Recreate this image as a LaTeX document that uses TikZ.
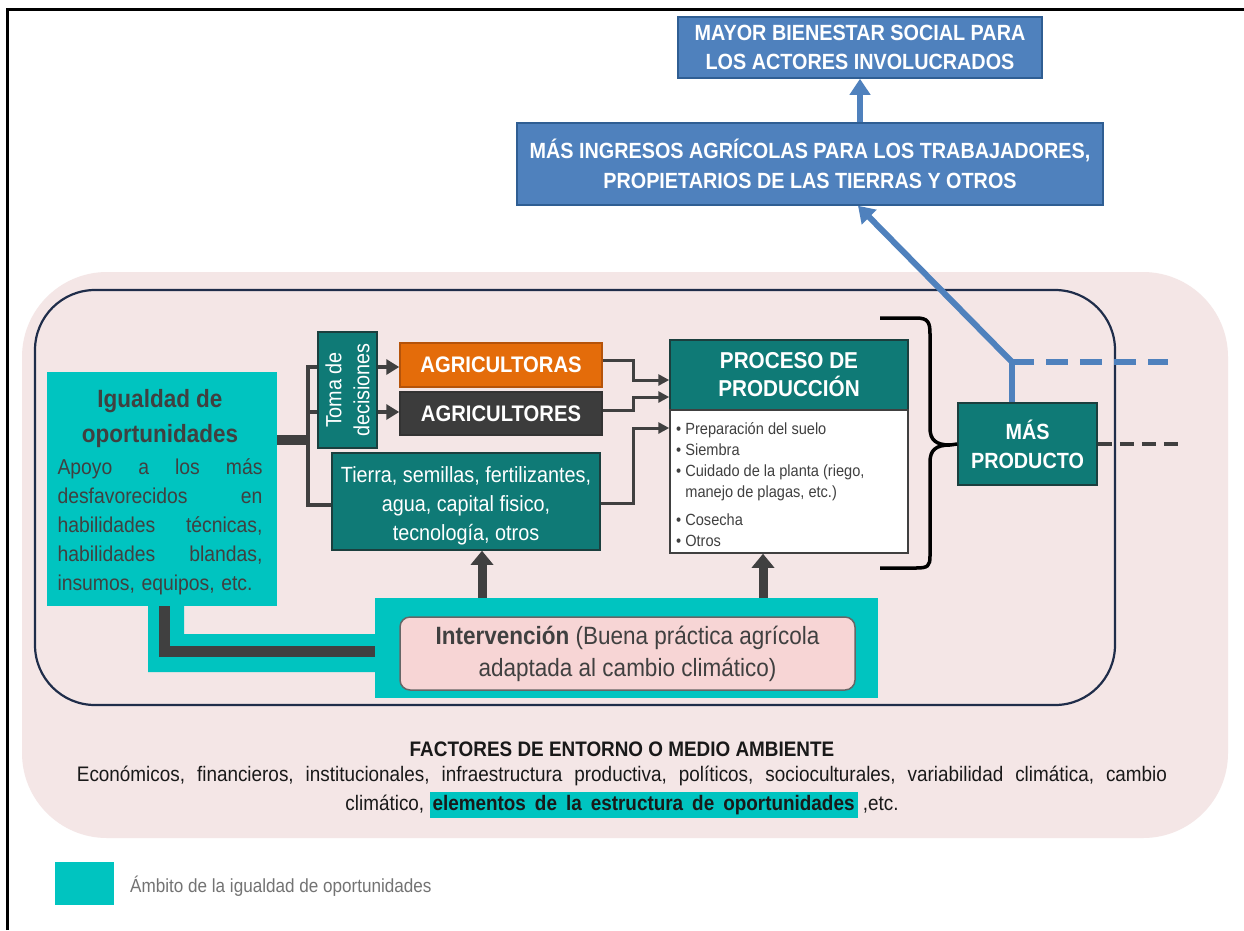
\documentclass[tikz,border=0pt]{standalone}
\usepackage{fontspec}
\setmainfont{Liberation Sans}[FakeStretch=0.9]
\usetikzlibrary{arrows.meta,calc}
\definecolor{tealB}{HTML}{00C4C0}
\definecolor{tealD}{HTML}{0F7A76}
\definecolor{tealDB}{HTML}{1B3F3E}
\definecolor{orng}{HTML}{E46C0A}
\definecolor{orngD}{HTML}{B5530A}
\definecolor{dgray}{HTML}{3C3C3C}
\definecolor{conn}{HTML}{404040}
\definecolor{blueB}{HTML}{4F81BD}
\definecolor{blueD}{HTML}{2F5E93}
\definecolor{pinkBg}{HTML}{F4E6E6}
\definecolor{pinkI}{HTML}{F7D5D5}
\definecolor{navy}{HTML}{1F2D4A}
\definecolor{txtg}{HTML}{404040}
\newcommand{\fsz}[2]{\fontsize{#1}{#2}\selectfont}
\newcommand{\jline}[2][205pt]{\leavevmode\hbox to #1{#2}}
\begin{document}
\begin{tikzpicture}[x=1pt,y=-1pt,
  dkbox/.style={fill=tealD, draw=tealDB, line width=1.5pt, text=white, inner sep=0pt, align=center},
  bluebox/.style={fill=blueB, draw=blueD, line width=1.5pt, text=white, inner sep=0pt, align=center, font=\bfseries\fsz{22}{30}},
  thinarr/.style={draw=conn, line width=3pt, -{Triangle[width=11pt,length=11pt]}},
  midarr/.style={draw=conn, line width=4.5pt, -{Triangle[width=15pt,length=13pt]}},
  bigarr/.style={draw=conn, line width=9pt, -{Triangle[width=22pt,length=14pt]}},
  blueline/.style={draw=blueB, line width=6pt},
  bluearr/.style={draw=blueB, line width=6pt, -{Triangle[width=20pt,length=16pt]}}
]
\useasboundingbox (0,0) rectangle (1244,930);
\fill[white] (0,0) rectangle (1244,930);
% frame
\draw[black, line width=3pt] (7,930) -- (7,9) -- (1244,9);

% backgrounds
\fill[pinkBg, rounded corners=85pt] (22,272) rectangle (1228,838);
\draw[navy, line width=2.2pt, rounded corners=60pt] (35,290) rectangle (1115,705);

% teal zones
\fill[tealB] (148,600) -- (184,600) -- (184,634) -- (380,634) -- (380,672) -- (148,672) -- cycle;
\node[fill=tealB, minimum width=503pt, minimum height=100pt, inner sep=0pt] (intzone) at (626.5,648) {};
\node[fill=tealB, minimum width=230pt, minimum height=234pt, inner sep=0pt] (igual) at (162,489) {};
\node[text=txtg, font=\bfseries\fsz{25}{35}, align=center] (igtitle) at (160,419) {Igualdad de\\oportunidades};
\node[text=txtg, font=\fsz{21.5}{29}, text width=205pt, align=left, anchor=north, inner sep=0pt] (igbody) at (160,458)
 {\jline{Apoyo\hfill a\hfill los\hfill más}\\\jline{desfavorecidos\hfill en}\\\jline{habilidades\hfill técnicas,}\\\jline{habilidades\hfill blandas,}\\\jline[195pt]{insumos,\hfill equipos,\hfill etc.}};

% intervention box
\node[fill=pinkI, draw=gray!80!black, line width=1.5pt, rounded corners=10pt, minimum width=455pt, minimum height=73pt, inner sep=0pt,
  text=txtg, font=\fsz{25}{32}, align=center] (interv) at (627.5,653.5)
  {\textbf{Intervención} (Buena práctica agrícola\\adaptada al cambio climático)};

% top boxes
\node[bluebox, minimum width=364pt, minimum height=61pt, font=\bfseries\fsz{22}{29}] (mayor) at (860,47.5) {MAYOR BIENESTAR SOCIAL PARA\\LOS ACTORES INVOLUCRADOS};
\node[bluebox, minimum width=586pt, minimum height=82pt] (ingresos) at (810,164) {MÁS INGRESOS AGRÍCOLAS PARA LOS TRABAJADORES,\\PROPIETARIOS DE LAS TIERRAS Y OTROS};

% middle boxes
\node[dkbox, minimum width=59pt, minimum height=116pt] (toma) at (347.5,390) {};
\node[text=white, rotate=90, font=\fsz{22}{28}, align=center] (tomatxt) at (toma.center) {Toma de\\decisiones};
\node[fill=orng, draw=orngD, line width=1.5pt, text=white, minimum width=202pt, minimum height=44pt, inner sep=0pt, font=\bfseries\fsz{22.5}{24}] (agras) at (501,365) {AGRICULTORAS};
\node[fill=dgray, draw=black!80, line width=1.5pt, text=white, minimum width=202pt, minimum height=43pt, inner sep=0pt, font=\bfseries\fsz{22.5}{24}] (agres) at (501,413.5) {AGRICULTORES};
\node[dkbox, minimum width=268pt, minimum height=97pt] (tierra) at (466,501.5) {};
\node[text=white, font=\fsz{22}{29}, align=center, inner sep=0pt] (tierratxt) at (466,506) {Tierra, semillas, fertilizantes,\\agua, capital fisico,\\tecnología, otros};
\node[dkbox, minimum width=238pt, minimum height=70pt, font=\bfseries\fsz{23}{28}] (proceso) at (789,375) {PROCESO DE\\PRODUCCIÓN};
\node[fill=white, draw=conn, line width=1.5pt, minimum width=238pt, minimum height=143pt, inner sep=0pt] (bullets) at (789,481.5) {};
\node[anchor=north west, text=txtg, font=\fsz{16.2}{21}, align=left, inner sep=0pt] (bultxt) at (676,422)
 {• Preparación del suelo\\• Siembra\\• Cuidado de la planta (riego,\\\phantom{• }manejo de plagas, etc.)\\[7pt]• Cosecha\\• Otros};
\node[dkbox, minimum width=139pt, minimum height=82pt, font=\bfseries\fsz{22}{29}] (masprod) at (1027.5,444) {MÁS\\PRODUCTO};

% left connectors
\coordinate (jn) at (310,440);
\coordinate (v1) at (308,367);
\coordinate (v2) at (308,505);
\coordinate (v3) at (308,412);
\draw[conn, line width=10pt] (igual.east |- jn) -- (jn);
\draw[conn, line width=4pt] (toma.west |- v1) -- (v1) -- (v2) -- (tierra.west |- v2);
\draw[conn, line width=4pt] (v3) -- (toma.west |- v3);
\draw[midarr] (toma.east |- v1) -- (agras.west |- v1);
\draw[midarr] (toma.east |- v3) -- (agres.west |- v3);

% right connectors to process
\coordinate (r1) at (633,360); \coordinate (r1b) at (633,380);
\coordinate (r2) at (633,410); \coordinate (r2b) at (633,397);
\coordinate (r3) at (633,503); \coordinate (r3b) at (633,428);
\draw[thinarr] (agras.east |- r1) -- (r1) -- (r1b) -- (proceso.west |- r1b);
\draw[thinarr] (agres.east |- r2) -- (r2) -- (r2b) -- (proceso.west |- r2b);
\draw[thinarr] (tierra.east |- r3) -- (r3) -- (r3b) -- (bullets.west |- r3b);

% intervention connectors
\coordinate (w1) at (164,651);
\draw[conn, line width=11pt] (igual.south -| w1) -- (w1) -- (intzone.west |- w1);
\coordinate (u1) at (482,0); \coordinate (u2) at (763,0);
\draw[bigarr] (intzone.north -| u1) -- (tierra.south -| u1);
\draw[bigarr] (intzone.north -| u2) -- (bullets.south -| u2);

% brace
\coordinate (bt) at (950,445);
\draw[black, line width=3.5pt] (880,318) -- (916,318) .. controls (928,318) and (930,322) .. (930,334) -- (930,428)
  .. controls (930,440) and (936,445) .. (bt) .. controls (936,445) and (930,450) .. (930,462) -- (930,556)
  .. controls (930,566) and (928,568) .. (916,568) -- (880,568);
\draw[black, line width=3.5pt] (bt) -- (masprod.west);

% outputs
\coordinate (J) at (1012,362);
\coordinate (Jd) at (1168,362);
\coordinate (ia) at (858,0);
\coordinate (ua) at (860,0);
\coordinate (Gd) at (1185,444);
\draw[blueline] (masprod.north -| J) -- (J);
\draw[bluearr] (J) -- (ingresos.south -| ia);
\draw[blueline, dash pattern=on 22pt off 12pt] (J) -- (Jd);
\draw[conn, line width=4pt, dash pattern=on 14pt off 8pt] (masprod.east) -- (Gd);
\draw[bluearr] (ingresos.north -| ua) -- (mayor.south -| ua);

% environment text
\node[font=\bfseries\fsz{21}{24}, text=black!90] (factit) at (622,749) {FACTORES DE ENTORNO O MEDIO AMBIENTE};
\node[font=\fsz{21}{29}, text=black!90, align=center] (factxt) at (622,792)
 {\spaceskip=12pt plus 2pt minus 1pt Económicos, financieros, institucionales, infraestructura productiva, políticos, socioculturales, variabilidad climática, cambio\\
 climático, {\setlength{\fboxsep}{3pt}\colorbox{tealB}{\spaceskip=9pt\textbf{elementos de la estructura de oportunidades}}} ,etc.};

% legend
\node[fill=tealB, minimum width=59pt, minimum height=43pt, inner sep=0pt] (legsq) at (84.5,883.5) {};
\node[anchor=west, text=gray!90!black, font=\fsz{19}{21}, inner sep=0pt] (legtxt) at (130,886) {Ámbito de la igualdad de oportunidades};
\end{tikzpicture}
\end{document}
